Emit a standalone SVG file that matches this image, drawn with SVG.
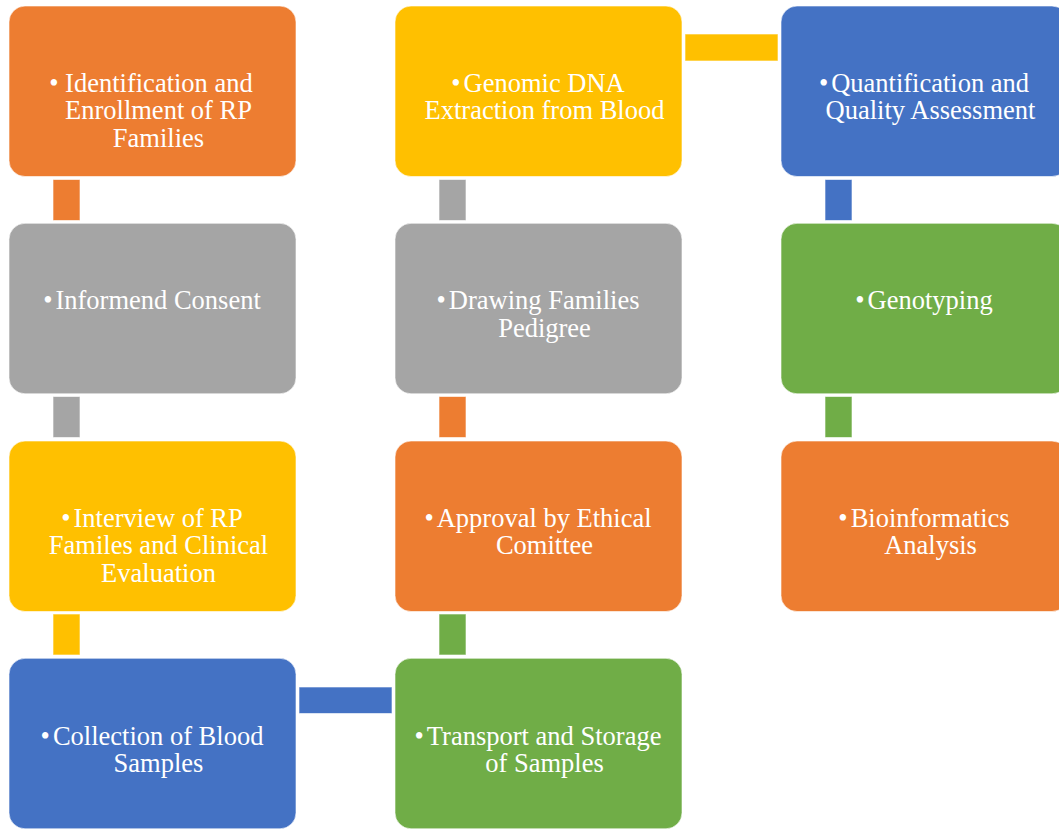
<svg xmlns="http://www.w3.org/2000/svg" width="1059" height="829" viewBox="0 0 1059 829">
  <style>
    .box { stroke: #ffffff; stroke-opacity: 0.6; stroke-width: 1; }
    .link { stroke: #ffffff; stroke-opacity: 0.6; stroke-width: 1; }
    .orange { fill: #ED7D31; }
    .gray { fill: #A5A5A5; }
    .yellow { fill: #FFC000; }
    .blue { fill: #4472C4; }
    .green { fill: #70AD47; }
    text { font-family: "Liberation Serif", "Times New Roman", serif; font-size: 26.5px; fill: #ffffff; text-anchor: middle; }
  </style>
  <rect width="1059" height="829" fill="#ffffff"/>

  <!-- connectors between steps -->
  <g id="connectors">
    <rect class="link orange" x="53" y="179.5" width="27" height="41"/>
    <rect class="link gray" x="53" y="396.5" width="27" height="41"/>
    <rect class="link yellow" x="53" y="614" width="27" height="41"/>
    <rect class="link blue" x="299" y="687" width="93" height="26.5"/>
    <rect class="link green" x="439" y="614" width="27" height="41"/>
    <rect class="link orange" x="439" y="396.5" width="27" height="41"/>
    <rect class="link gray" x="439" y="179.5" width="27" height="41"/>
    <rect class="link yellow" x="685" y="34" width="93" height="27"/>
    <rect class="link blue" x="825" y="179.5" width="27" height="41"/>
    <rect class="link green" x="825" y="396.5" width="27" height="41"/>
  </g>

  <!-- column 1 -->
  <g id="step-identification">
    <rect class="box orange" x="9" y="6" width="287" height="170.5" rx="16"/>
    <text x="151" y="91.5">• Identification and</text>
    <text x="158.5" y="119">Enrollment of RP</text>
    <text x="158.5" y="146.5">Families</text>
  </g>
  <g id="step-consent">
    <rect class="box gray" x="9" y="223.3" width="287" height="170.5" rx="16"/>
    <text x="152" y="309">•<tspan dx="3">Informend Consent</tspan></text>
  </g>
  <g id="step-interview">
    <rect class="box yellow" x="9" y="441" width="287" height="170.5" rx="16"/>
    <text x="152" y="526.7">•<tspan dx="3">Interview of RP</tspan></text>
    <text x="158.5" y="554.2">Familes and Clinical</text>
    <text x="158.5" y="581.7">Evaluation</text>
  </g>
  <g id="step-collection">
    <rect class="box blue" x="9" y="658.3" width="287" height="170.5" rx="16"/>
    <text x="152" y="744.5">•<tspan dx="3">Collection of Blood</tspan></text>
    <text x="158.5" y="772">Samples</text>
  </g>

  <!-- column 2 -->
  <g id="step-transport">
    <rect class="box green" x="395" y="658.3" width="287" height="170.5" rx="16"/>
    <text x="538" y="744.5">•<tspan dx="3">Transport and Storage</tspan></text>
    <text x="544.5" y="772">of Samples</text>
  </g>
  <g id="step-approval">
    <rect class="box orange" x="395" y="441" width="287" height="170.5" rx="16"/>
    <text x="538" y="526.7">•<tspan dx="3">Approval by Ethical</tspan></text>
    <text x="544.5" y="554.2">Comittee</text>
  </g>
  <g id="step-pedigree">
    <rect class="box gray" x="395" y="223.3" width="287" height="170.5" rx="16"/>
    <text x="538" y="309">•<tspan dx="3">Drawing Families</tspan></text>
    <text x="544.5" y="336.5">Pedigree</text>
  </g>
  <g id="step-extraction">
    <rect class="box yellow" x="395" y="6" width="287" height="170.5" rx="16"/>
    <text x="538" y="91.5">•<tspan dx="3">Genomic DNA</tspan></text>
    <text x="544.5" y="119">Extraction from Blood</text>
  </g>

  <!-- column 3 -->
  <g id="step-quantification">
    <rect class="box blue" x="781" y="6" width="287" height="170.5" rx="16"/>
    <text x="924" y="91.5">•<tspan dx="3">Quantification and</tspan></text>
    <text x="930.5" y="119">Quality Assessment</text>
  </g>
  <g id="step-genotyping">
    <rect class="box green" x="781" y="223.3" width="287" height="170.5" rx="16"/>
    <text x="924" y="309">•<tspan dx="3">Genotyping</tspan></text>
  </g>
  <g id="step-bioinformatics">
    <rect class="box orange" x="781" y="441" width="287" height="170.5" rx="16"/>
    <text x="924" y="526.7">•<tspan dx="3">Bioinformatics</tspan></text>
    <text x="930.5" y="554.2">Analysis</text>
  </g>
</svg>
